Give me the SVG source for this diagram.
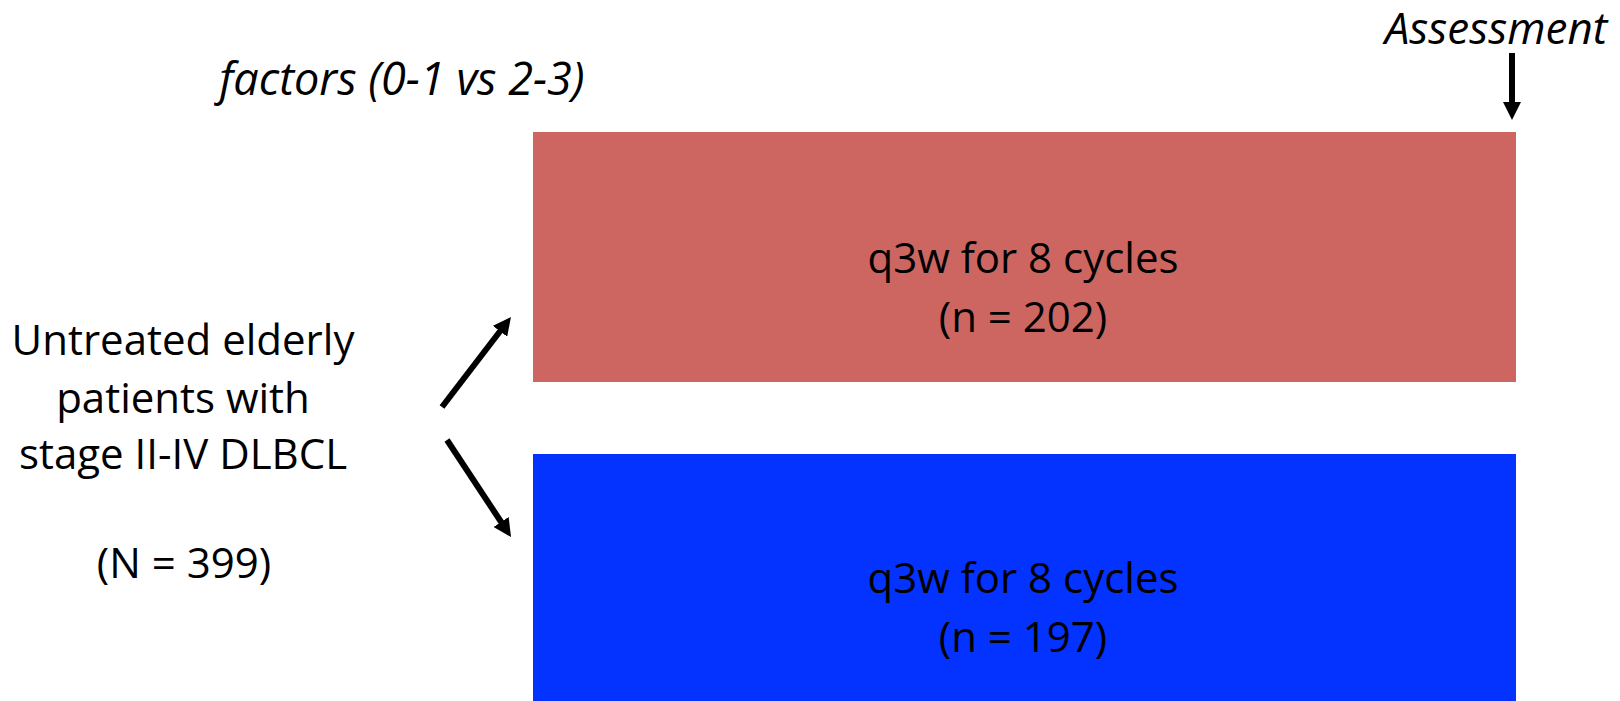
<svg xmlns="http://www.w3.org/2000/svg" width="1620" height="701" viewBox="0 0 1620 701">
<style>
.t{font-family:"Open Sans","Liberation Sans",sans-serif;font-size:42px;fill:#000;text-anchor:middle}
.i{font-style:italic;font-size:45px}
.c{stroke:#000;stroke-width:6;fill:none}
</style>
<defs>
<marker id="ah" viewBox="0 0 10 10" refX="3" refY="5" markerWidth="18" markerHeight="18" orient="auto" markerUnits="userSpaceOnUse">
<path d="M0,0 L10,5 L0,10 Z" fill="#000"/>
</marker>
</defs>
<rect width="1620" height="701" fill="#fff"/>
<g id="assessment">
<text class="t i" x="1496" y="44" style="font-size:44px">Assessment</text>
</g>
<g id="factors">
<text class="t i" x="402" y="95">factors (0-1 vs 2-3)</text>
</g>
<g id="population">
<text class="t" x="183" y="355">Untreated elderly</text>
<text class="t" x="183" y="413">patients with</text>
<text class="t" x="183" y="469">stage II-IV DLBCL</text>
<text class="t" x="184" y="578">(N = 399)</text>
</g>
<g id="arm1">
<rect x="533" y="132" width="983" height="250" fill="#CD6660"/>
<text class="t" x="1023" y="273">q3w for 8 cycles</text>
<text class="t" x="1023" y="332">(n = 202)</text>
</g>
<g id="arm2">
<rect x="533" y="454" width="983" height="247" fill="#0433FF"/>
<text class="t" x="1023" y="593">q3w for 8 cycles</text>
<text class="t" x="1023" y="652">(n = 197)</text>
</g>
<g id="connectors">
<line class="c" x1="1512" y1="53" x2="1512" y2="107.4" marker-end="url(#ah)"/>
<line class="c" x1="442" y1="407" x2="503.3" y2="327" marker-end="url(#ah)"/>
<line class="c" x1="447" y1="440" x2="504.1" y2="526.5" marker-end="url(#ah)"/>
</g>
</svg>
